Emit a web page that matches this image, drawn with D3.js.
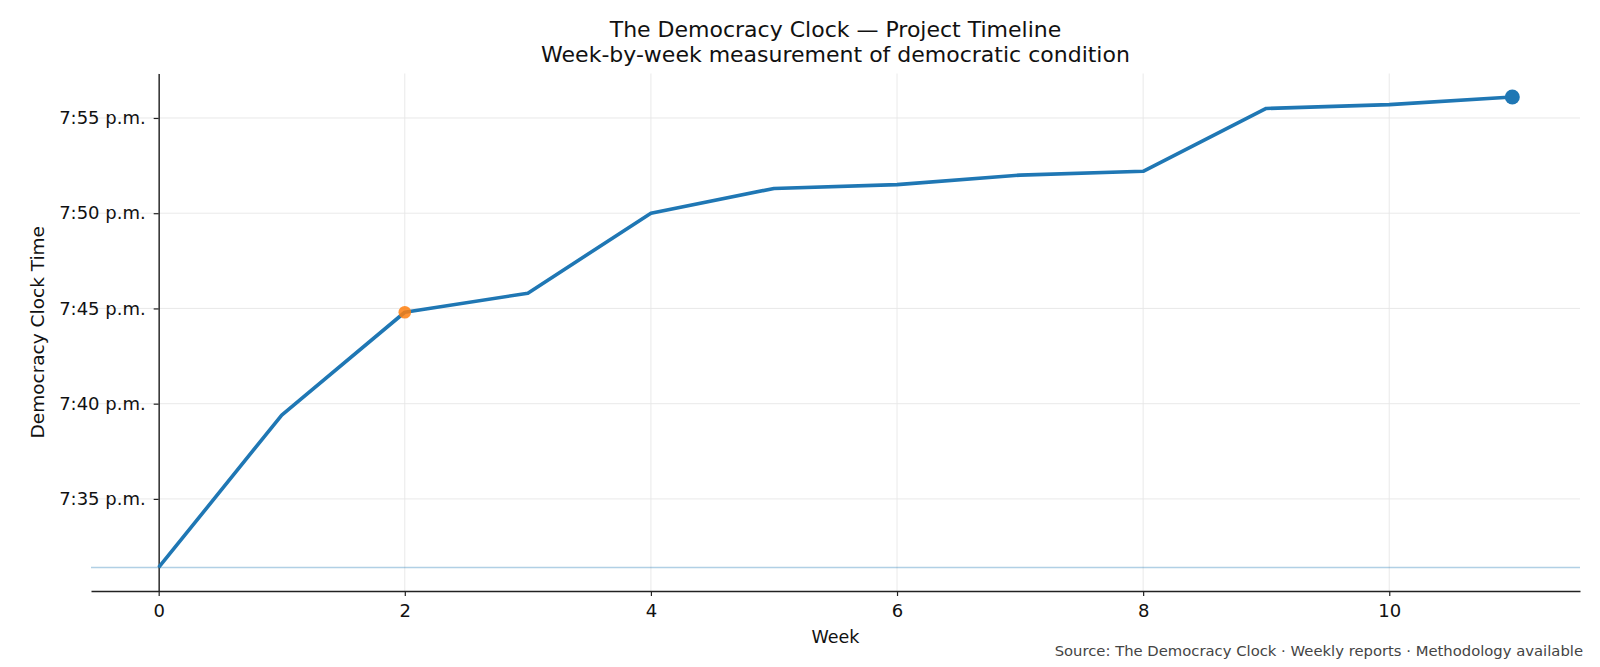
<!DOCTYPE html>
<html>
<head>
<meta charset="utf-8">
<script src="https://cdn.jsdelivr.net/npm/d3@7"></script>
<style>
  html, body { margin: 0; padding: 0; background: #fff; overflow: hidden; }
  svg { display: block; font-family: "DejaVu Sans", sans-serif; }
</style>
</head>
<body>
<script>
// weeks and clock readings (minutes after 7:00 p.m.)
var weeks = [0, 1, 2, 3, 4, 5, 6, 7, 8, 9, 10, 11];
var minutes = [31.4, 39.4, 44.8, 45.8, 50.0, 51.3, 51.5, 52.0, 52.2, 55.5, 55.7, 56.1];
var yTicks = [35, 40, 45, 50, 55];
var xTicks = [0, 2, 4, 6, 8, 10];
var highlightWeek = 2;

var width = 1600, height = 667;
var margin = {top: 73.5, right: 20, bottom: 76, left: 91};

var data = weeks.map((w, i) => ({week: w, value: minutes[i]}));

var svg = d3.select("body").append("svg")
    .attr("width", width)
    .attr("height", height);

var xPad = (d3.max(weeks) - d3.min(weeks)) * 0.05;
var x = d3.scaleLinear()
    .domain([d3.min(weeks) - xPad, d3.max(weeks) + xPad])
    .range([margin.left, width - margin.right]);

var yPad = (d3.max(minutes) - d3.min(minutes)) * 0.05;
var y = d3.scaleLinear()
    .domain([d3.min(minutes) - yPad, d3.max(minutes) + yPad])
    .range([height - margin.bottom, margin.top]);

var fmt = m => "7:" + d3.format("02d")(m) + " p.m.";
var cx = (margin.left + width - margin.right) / 2;

// grid
svg.append("g")
  .selectAll("line")
  .data(yTicks)
  .join("line")
    .attr("x1", margin.left).attr("x2", width - margin.right)
    .attr("y1", d => y(d)).attr("y2", d => y(d))
    .attr("stroke", "#e6e6e6").attr("stroke-width", 0.9);

svg.append("g")
  .selectAll("line")
  .data(xTicks)
  .join("line")
    .attr("x1", d => x(d)).attr("x2", d => x(d))
    .attr("y1", margin.top).attr("y2", height - margin.bottom)
    .attr("stroke", "#e6e6e6").attr("stroke-width", 0.9);

// baseline at starting value
svg.append("line")
    .attr("x1", margin.left).attr("x2", width - margin.right)
    .attr("y1", y(minutes[0])).attr("y2", y(minutes[0]))
    .attr("stroke", "#1f77b4").attr("stroke-opacity", 0.35)
    .attr("stroke-width", 1.4);

// axes
var styleAxis = g => g
    .attr("font-family", "DejaVu Sans, sans-serif")
    .call(g => g.select(".domain").attr("stroke", "#222").attr("stroke-width", 1.4))
    .call(g => g.selectAll(".tick line").attr("stroke", "#222").attr("stroke-width", 1.2))
    .call(g => g.selectAll(".tick text").attr("font-size", 18).attr("fill", "#111"));

var xAxis = g => g
    .attr("transform", `translate(0,${height - margin.bottom})`)
    .call(d3.axisBottom(x).tickValues(xTicks).tickSize(5).tickPadding(8).tickSizeOuter(0))
    .call(styleAxis);

var yAxis = g => g
    .attr("transform", `translate(${x(0)},0)`)
    .call(d3.axisLeft(y).tickValues(yTicks).tickFormat(fmt).tickSize(5).tickPadding(8).tickSizeOuter(0))
    .call(styleAxis);

svg.append("g").call(xAxis);
svg.append("g").call(yAxis);

// line
var line = d3.line()
    .x(d => x(d.week))
    .y(d => y(d.value));

svg.append("path")
    .datum(data)
    .attr("fill", "none")
    .attr("stroke", "#1f77b4")
    .attr("stroke-width", 3.6)
    .attr("stroke-linejoin", "round")
    .attr("d", line);

// highlighted week
var hl = data.find(d => d.week === highlightWeek);
svg.append("circle")
    .attr("cx", x(hl.week)).attr("cy", y(hl.value))
    .attr("r", 6.3)
    .attr("fill", "#ff7f0e").attr("fill-opacity", 0.85);

// latest reading
var last = data[data.length - 1];
svg.append("circle")
    .attr("cx", x(last.week)).attr("cy", y(last.value))
    .attr("r", 7.5)
    .attr("fill", "#1f77b4");

// titles
svg.append("text")
    .attr("x", cx)
    .attr("y", 37)
    .attr("text-anchor", "middle")
    .style("font-size", "22px")
    .attr("fill", "#111")
    .text("The Democracy Clock \u2014 Project Timeline");

svg.append("text")
    .attr("x", cx)
    .attr("y", 62)
    .attr("text-anchor", "middle")
    .style("font-size", "22px")
    .attr("fill", "#111")
    .text("Week-by-week measurement of democratic condition");

//label for x-axis
svg.append("text")
    .attr("x", cx)
    .attr("y", 643)
    .attr("text-anchor", "middle")
    .style("font-size", "17.5px")
    .attr("fill", "#111")
    .text("Week");

//label for y-axis
svg.append("text")
    .attr("transform", `translate(44,${(margin.top + height - margin.bottom) / 2}) rotate(-90)`)
    .attr("text-anchor", "middle")
    .style("font-size", "18.5px")
    .attr("fill", "#111")
    .text("Democracy Clock Time");

svg.append("text")
    .attr("x", 1583)
    .attr("y", 656)
    .attr("text-anchor", "end")
    .style("font-size", "14.8px")
    .attr("fill", "#444")
    .text("Source: The Democracy Clock \u00b7 Weekly reports \u00b7 Methodology available");
</script>
</body>
</html>
